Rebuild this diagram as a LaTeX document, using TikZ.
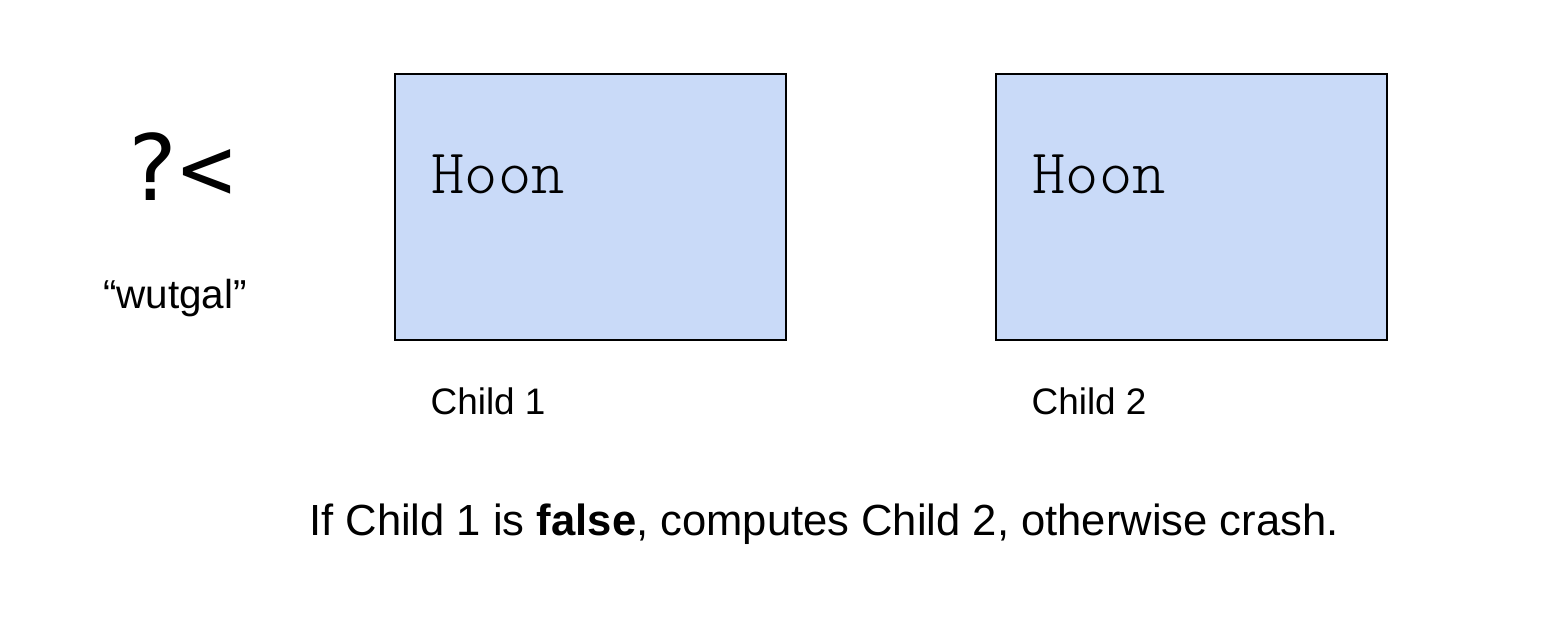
\documentclass[tikz,border=0pt]{standalone}
\usepackage{fontspec}
\setmainfont{Liberation Sans}
\newfontfamily\runefont{DejaVu Sans Mono}
\newfontfamily\hoonfont{Latin Modern Mono Light}
\usepackage{tikz}
\usetikzlibrary{calc}
\definecolor{boxblue}{HTML}{C9DAF8}

\begin{document}
\begin{tikzpicture}[
        childbox/.style={draw, fill=boxblue, line width=0.8pt, minimum width=7.82cm, minimum height=5.32cm},
        code/.style={anchor=west, inner sep=0pt, font=\hoonfont\fontsize{36}{40}\selectfont},
        label/.style={anchor=west, inner sep=0pt, font=\fontsize{21}{24}\selectfont}
    ]
        \useasboundingbox (0,0) rectangle (31.16,12.72);

        % the rune and its name
        \node[font=\runefont\fontsize{52}{56}\selectfont] (rune) at (3.6,9.38) {?<};
        \node[font=\fontsize{23}{26}\selectfont] (name) at (3.5,6.76) {``wutgal''};

        % the two children
        \node[childbox] (child1) at (11.81,8.58) {};
        \node[childbox] (child2) at (23.83,8.58) {};
        \node[code] (hoon1) at ($(child1.north west)+(0.74,-2.02)$) {Hoon};
        \node[code] (hoon2) at ($(child2.north west)+(0.74,-2.02)$) {Hoon};
        \node[label] (lab1) at ($(child1.south west)+(0.72,-1.22)$) {Child 1};
        \node[label] (lab2) at ($(child2.south west)+(0.72,-1.22)$) {Child 2};

        \node[font=\fontsize{24.8}{28}\selectfont] (note) at (16.48,2.24)
            {If Child 1 is \textbf{false}, computes Child 2, otherwise crash.};

    \end{tikzpicture}
\end{document}
